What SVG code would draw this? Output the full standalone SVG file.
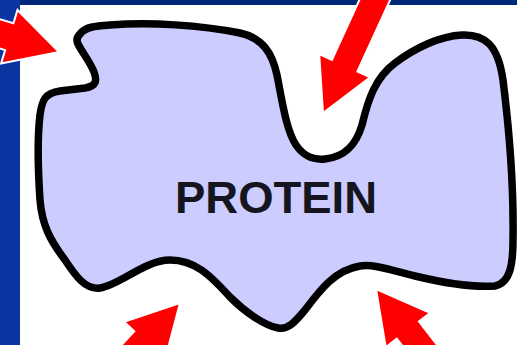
<svg xmlns="http://www.w3.org/2000/svg" width="517" height="345" viewBox="0 0 517 345">
  <style>
    .blob { fill: #ccccff; stroke: #000; stroke-width: 7.5; stroke-linejoin: round; }
    .label { font-family: "Liberation Sans", Arial, sans-serif; font-weight: bold; font-size: 44px; fill: #15151f; }
    .arrow { fill: #ff0000; stroke: #ffffff; stroke-width: 2; stroke-linejoin: miter; }
  </style>
  <defs>
    <path id="arr" d="M0,0 L-52,-28 L-52,-14 L-260,-14 L-260,14 L-52,14 L-52,28 Z"/>
  </defs>
  <rect x="0" y="0" width="517" height="345" fill="#ffffff"/>
  <rect x="0" y="0" width="517" height="5" fill="#00287a"/>
  <rect x="0" y="0" width="20" height="345" fill="#0a34a0"/>
  <g id="protein">
    <path class="blob" d="M80,34 C85,27 95,26 110,25 C150,22 200,25 240,33 C262,38 272,52 277,75 C282,100 286,130 296,145 C305,158 315,160 325,159 C345,157 356,145 362,125 C368,100 375,78 395,63 C415,48 440,36 462,35 C485,34 498,45 503,80 C508,120 514,180 513,240 C513,265 510,283 495,286 C470,288 440,282 415,276 C390,270 375,264 360,266 C335,270 320,290 305,310 C295,322 288,330 278,328 C265,326 245,312 230,297 C210,275 195,260 170,260 C145,260 120,285 100,288 C85,290 75,275 65,260 C50,240 42,225 40,200 C38,170 37,140 40,115 C42,100 45,93 60,91 L85,88 C97,86 97,80 94,72 C90,62 82,52 78,44 C76,40 77,37 80,34 Z"/>
    <text class="label" x="276" y="213" text-anchor="middle" textLength="202" lengthAdjust="spacingAndGlyphs">PROTEIN</text>
  </g>
  <g id="connectors">
    <use href="#arr" class="arrow" transform="translate(59,52) rotate(17.1)"/>
    <use href="#arr" class="arrow" transform="translate(323,113) rotate(114.6)"/>
    <use href="#arr" class="arrow" transform="translate(180,303) rotate(-46.9)"/>
    <use href="#arr" class="arrow" transform="translate(376,289) rotate(-127.8)"/>
  </g>
</svg>
